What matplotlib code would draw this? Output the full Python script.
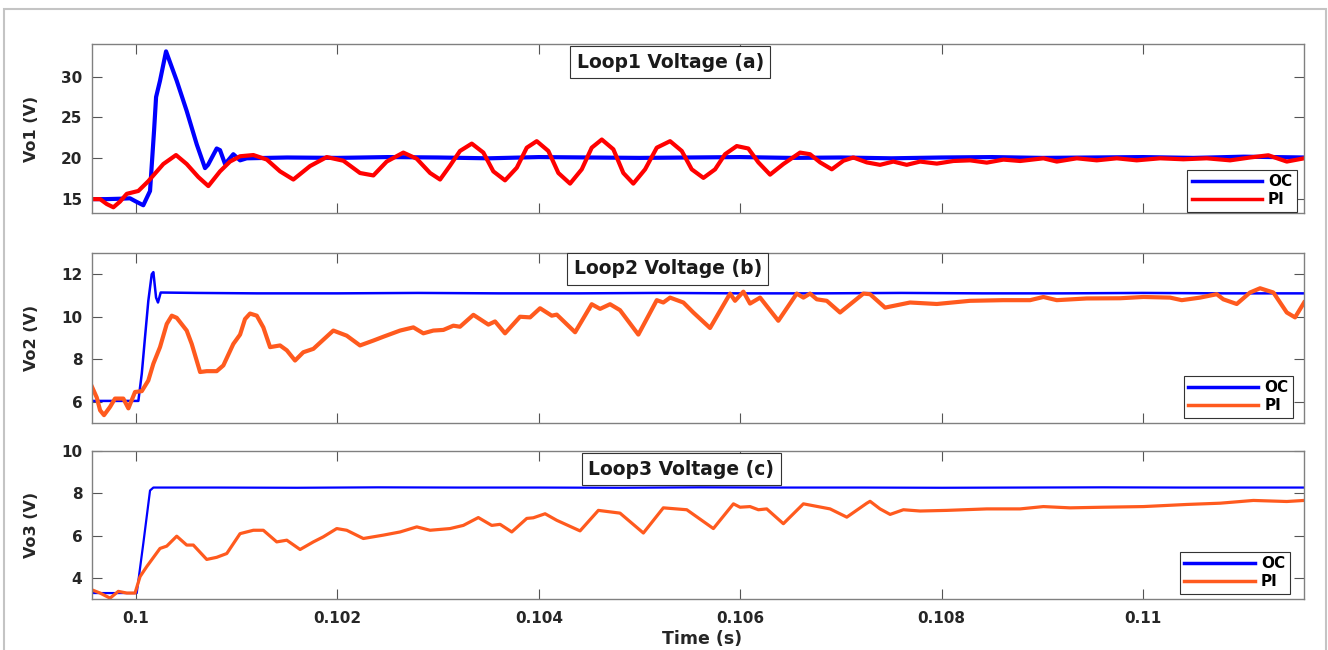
import numpy as np
import matplotlib.pyplot as plt
from matplotlib.patches import Rectangle

plt.rcParams['font.family'] = 'DejaVu Sans'
plt.rcParams['font.weight'] = 'bold'

# Paso 1: datos (tiempo en ms, tension en V)

# Lazo 1
oc1_t = [99.563, 99.70, 99.85, 99.94, 100.00, 100.072, 100.139, 100.179, 100.199, 100.238,
         100.298, 100.404, 100.503, 100.603, 100.685, 100.715, 100.801, 100.834, 100.884,
         100.966, 101.033, 101.099, 101.5, 102.0, 102.5, 103.0, 103.5, 104.0, 104.5, 105.0,
         105.5, 106.0, 106.5, 107.0, 107.5, 108.0, 108.5, 109.0, 109.5, 110.0, 110.5, 111.0,
         111.6]
oc1_v = [15.0, 15.0, 15.05, 15.1, 14.7, 14.25, 16.0, 23.4, 27.5, 29.5,
         33.1, 29.5, 25.8, 21.7, 18.8, 19.2, 21.2, 21.0, 19.3,
         20.5, 19.75, 20.0, 20.1, 20.05, 20.15, 20.1, 20.0, 20.15, 20.1, 20.05,
         20.1, 20.15, 20.05, 20.1, 20.0, 20.1, 20.15, 20.05, 20.1, 20.15, 20.05, 20.2,
         20.1]

pi1_t = [99.563, 99.643, 99.709, 99.775, 99.841, 99.908, 100.023, 100.122, 100.271, 100.397,
         100.503, 100.619, 100.718, 100.834, 100.933, 101.033, 101.165, 101.298, 101.430,
         101.562, 101.728, 101.894, 102.059, 102.224, 102.357, 102.489, 102.654, 102.787,
         102.920, 103.019, 103.118, 103.217, 103.334, 103.449, 103.548, 103.664, 103.781,
         103.880, 103.979, 104.094, 104.194, 104.310, 104.426, 104.525, 104.625, 104.740,
         104.839, 104.938, 105.055, 105.171, 105.303, 105.419, 105.518, 105.634, 105.750,
         105.849, 105.965, 106.080, 106.180, 106.296, 106.428, 106.594, 106.693, 106.793,
         106.909, 107.024, 107.123, 107.256, 107.388, 107.520, 107.653, 107.786, 107.952,
         108.116, 108.282, 108.448, 108.613, 108.779, 109.010, 109.143, 109.342, 109.540,
         109.739, 109.937, 110.169, 110.400, 110.632, 110.864, 111.062, 111.244, 111.427,
         111.599]
pi1_v = [15.0, 15.0, 14.4, 14.0, 14.7, 15.65, 16.0, 17.2, 19.3, 20.4,
         19.3, 17.7, 16.6, 18.4, 19.6, 20.25, 20.4, 19.85, 18.4,
         17.4, 19.05, 20.15, 19.7, 18.2, 17.9, 19.6, 20.7, 19.95,
         18.2, 17.4, 19.1, 20.9, 21.8, 20.7, 18.4, 17.3, 18.85,
         21.3, 22.1, 20.9, 18.2, 16.9, 18.65, 21.3, 22.3, 21.1,
         18.2, 16.9, 18.65, 21.3, 22.1, 20.9, 18.65, 17.6, 18.65,
         20.5, 21.5, 21.2, 19.5, 18.0, 19.3, 20.7, 20.5, 19.5,
         18.65, 19.7, 20.1, 19.5, 19.2, 19.6, 19.2, 19.6, 19.35,
         19.67, 19.75, 19.47, 19.84, 19.67, 20.0, 19.6, 20.0, 19.75,
         20.0, 19.75, 20.0, 19.88, 20.0, 19.75, 20.1, 20.37, 19.6,
         20.0]

# Lazo 2
oc2_t = [99.563, 100.023, 100.057, 100.089, 100.122, 100.156, 100.172, 100.199, 100.218,
         100.245, 100.6, 101.2, 102.0, 102.8, 103.6, 104.4, 105.2, 106.0, 106.8, 107.6,
         108.4, 109.2, 110.0, 110.8, 111.6]
oc2_v = [6.04, 6.04, 7.32, 9.03, 10.75, 12.0, 12.1, 10.9, 10.67,
         11.14, 11.12, 11.1, 11.1, 11.12, 11.1, 11.1, 11.12, 11.1, 11.1, 11.12,
         11.1, 11.1, 11.12, 11.1, 11.1]

pi2_t = [99.563, 99.610, 99.643, 99.682, 99.742, 99.791, 99.874, 99.924, 99.990, 100.057,
         100.122, 100.172, 100.238, 100.305, 100.355, 100.404, 100.503, 100.553, 100.636,
         100.702, 100.801, 100.867, 100.966, 101.033, 101.082, 101.132, 101.199, 101.264,
         101.331, 101.430, 101.497, 101.579, 101.661, 101.761, 101.959, 102.092, 102.224,
         102.357, 102.456, 102.622, 102.754, 102.853, 102.952, 103.052, 103.151, 103.217,
         103.350, 103.499, 103.565, 103.664, 103.813, 103.913, 104.012, 104.128, 104.178,
         104.360, 104.525, 104.608, 104.707, 104.806, 104.988, 105.171, 105.236, 105.303,
         105.435, 105.534, 105.700, 105.899, 105.948, 106.031, 106.097, 106.197, 106.378,
         106.561, 106.627, 106.693, 106.760, 106.859, 106.991, 107.223, 107.289, 107.438,
         107.686, 107.952, 108.282, 108.610, 108.878, 109.010, 109.143, 109.441, 109.772,
         110.003, 110.268, 110.384, 110.566, 110.732, 110.797, 110.930, 111.062, 111.162,
         111.294, 111.427, 111.509, 111.599]
pi2_v = [6.7, 6.2, 5.6, 5.37, 5.76, 6.15, 6.15, 5.69, 6.46, 6.5,
         7.0, 7.79, 8.57, 9.66, 10.05, 9.95, 9.35, 8.72, 7.4,
         7.44, 7.44, 7.71, 8.72, 9.16, 9.89, 10.15, 10.05, 9.5,
         8.57, 8.65, 8.42, 7.94, 8.33, 8.49, 9.35, 9.11, 8.65,
         8.88, 9.06, 9.35, 9.5, 9.22, 9.35, 9.38, 9.58, 9.53,
         10.09, 9.63, 9.78, 9.22, 10.0, 9.97, 10.4, 10.05, 10.1,
         9.27, 10.59, 10.37, 10.59, 10.31, 9.16, 10.78, 10.67, 10.9,
         10.67, 10.2, 9.47, 11.09, 10.75, 11.18, 10.62, 10.9, 9.81,
         11.09, 10.9, 11.09, 10.82, 10.75, 10.2, 11.09, 11.06, 10.43,
         10.67, 10.6, 10.75, 10.78, 10.78, 10.93, 10.78, 10.86, 10.87,
         10.93, 10.9, 10.78, 10.9, 11.06, 10.82, 10.6, 11.14, 11.34,
         11.14, 10.2, 9.97, 10.67]

# Lazo 3
oc3_t = [99.563, 100.007, 100.072, 100.139, 100.172, 100.8, 101.6, 102.4, 103.2, 104.0,
         104.8, 105.6, 106.4, 107.2, 108.0, 108.8, 109.6, 110.4, 111.2, 111.6]
oc3_v = [3.28, 3.28, 5.62, 8.13, 8.27, 8.27, 8.26, 8.28, 8.27, 8.27,
         8.26, 8.28, 8.27, 8.27, 8.26, 8.27, 8.28, 8.27, 8.27, 8.27]

pi3_t = [99.563, 99.643, 99.742, 99.824, 99.908, 99.990, 100.040, 100.106, 100.172, 100.238,
         100.305, 100.404, 100.503, 100.569, 100.702, 100.801, 100.901, 101.033, 101.165,
         101.264, 101.397, 101.497, 101.629, 101.761, 101.860, 101.993, 102.092, 102.257,
         102.456, 102.622, 102.788, 102.920, 103.118, 103.250, 103.399, 103.532, 103.615,
         103.731, 103.880, 103.945, 104.062, 104.178, 104.409, 104.591, 104.806, 105.038,
         105.236, 105.469, 105.733, 105.932, 105.998, 106.097, 106.180, 106.263, 106.428,
         106.627, 106.892, 107.058, 107.257, 107.289, 107.388, 107.488, 107.620, 107.786,
         108.051, 108.448, 108.779, 109.010, 109.275, 109.606, 110.003, 110.434, 110.765,
         111.095, 111.427, 111.599]
pi3_v = [3.43, 3.28, 3.04, 3.36, 3.28, 3.28, 4.06, 4.53, 4.96, 5.39,
         5.5, 5.97, 5.55, 5.55, 4.87, 4.97, 5.15, 6.09, 6.25,
         6.25, 5.7, 5.78, 5.34, 5.7, 5.94, 6.33, 6.25, 5.86,
         6.02, 6.17, 6.41, 6.25, 6.33, 6.48, 6.85, 6.48, 6.53,
         6.17, 6.81, 6.84, 7.03, 6.72, 6.22, 7.19, 7.06, 6.12,
         7.31, 7.22, 6.33, 7.5, 7.34, 7.37, 7.22, 7.26, 6.56,
         7.5, 7.26, 6.87, 7.53, 7.62, 7.26, 7.0, 7.22, 7.16,
         7.19, 7.26, 7.26, 7.37, 7.31, 7.34, 7.37, 7.47, 7.53,
         7.66, 7.61, 7.66]

titles = ['Loop1 Voltage (a)', 'Loop2 Voltage (b)', 'Loop3 Voltage (c)']
ylabels = ['Vo1 (V)', 'Vo2 (V)', 'Vo3 (V)']
yticks = [[15, 20, 25, 30], [6, 8, 10, 12], [4, 6, 8, 10]]
ylims = [(13.3, 34.0), (5.0, 13.0), (3.0, 10.0)]
xticks = [0.1, 0.102, 0.104, 0.106, 0.108, 0.11]
xticklabels = ['0.1', '0.102', '0.104', '0.106', '0.108', '0.11']

series = [
    (oc1_t, oc1_v, pi1_t, pi1_v, '#FF0000', 3.0, 3.0),
    (oc2_t, oc2_v, pi2_t, pi2_v, '#FF5A1E', 1.8, 3.0),
    (oc3_t, oc3_v, pi3_t, pi3_v, '#FF5A1E', 1.6, 2.3),
]

# Paso 2: figura y ejes
fig = plt.figure(figsize=(13.28, 6.5), dpi=100)
fig.patches.append(Rectangle((0.003, -0.05), 0.9955, 1.036, transform=fig.transFigure,
                             fill=False, edgecolor='#c4c4c4', lw=1.5))

posiciones = [[0.0693, 0.6723, 0.9127, 0.2600],
              [0.0693, 0.3492, 0.9127, 0.2616],
              [0.0693, 0.0785, 0.9127, 0.2277]]
titulo_xy = [(0.477, 0.893), (0.475, 0.906), (0.486, 0.878)]
leyenda_xy = [(0.994, 0.006), (0.991, 0.03), (0.988, 0.034)]

for i in range(3):
    ax = fig.add_axes(posiciones[i])
    oc_t, oc_v, pi_t, pi_v, pi_color, oc_lw, pi_lw = series[i]
    ax.plot(np.array(oc_t) / 1000, oc_v, color='#0000FF', lw=oc_lw, label='OC')
    ax.plot(np.array(pi_t) / 1000, pi_v, color=pi_color, lw=pi_lw, label='PI')

    ax.set_xlim(0.099563, 0.111599)
    ax.set_ylim(*ylims[i])
    ax.set_xticks(xticks)
    ax.set_yticks(yticks[i])
    if i == 2:
        ax.set_xticklabels(xticklabels)
        ax.set_xlabel('Time (s)', fontsize=12.5, fontweight='bold', color='#262626')
        ax.xaxis.set_label_coords(0.503, -0.21)
    else:
        ax.set_xticklabels([])

    ax.tick_params(direction='in', top=True, right=True, length=7, width=0.8,
                   color='#555555', labelsize=11, labelcolor='#262626')
    ax.tick_params(axis='x', pad=9)
    ax.tick_params(axis='y', pad=7)
    for s in ax.spines.values():
        s.set_color('#808080')
        s.set_linewidth(1.0)

    ax.set_ylabel(ylabels[i], fontsize=11.5, fontweight='bold', color='#262626')
    ax.yaxis.set_label_coords(-0.044, 0.5)

    ax.text(titulo_xy[i][0], titulo_xy[i][1], titles[i], transform=ax.transAxes,
            ha='center', va='center', fontsize=13.5, fontweight='bold', color='#1a1a1a',
            bbox=dict(boxstyle='square,pad=0.35', fc='white', ec='#333333', lw=0.8),
            zorder=5)

    leg = ax.legend(loc='lower right', bbox_to_anchor=leyenda_xy[i], fontsize=11,
                    handlelength=4.6, fancybox=False, edgecolor='#333333', framealpha=1,
                    borderpad=0.3, labelspacing=0.2, handletextpad=0.4, borderaxespad=0)
    leg.get_frame().set_linewidth(0.8)
    for h in leg.get_lines():
        h.set_linewidth(2.5)

fig.savefig('out.png', dpi=100)
